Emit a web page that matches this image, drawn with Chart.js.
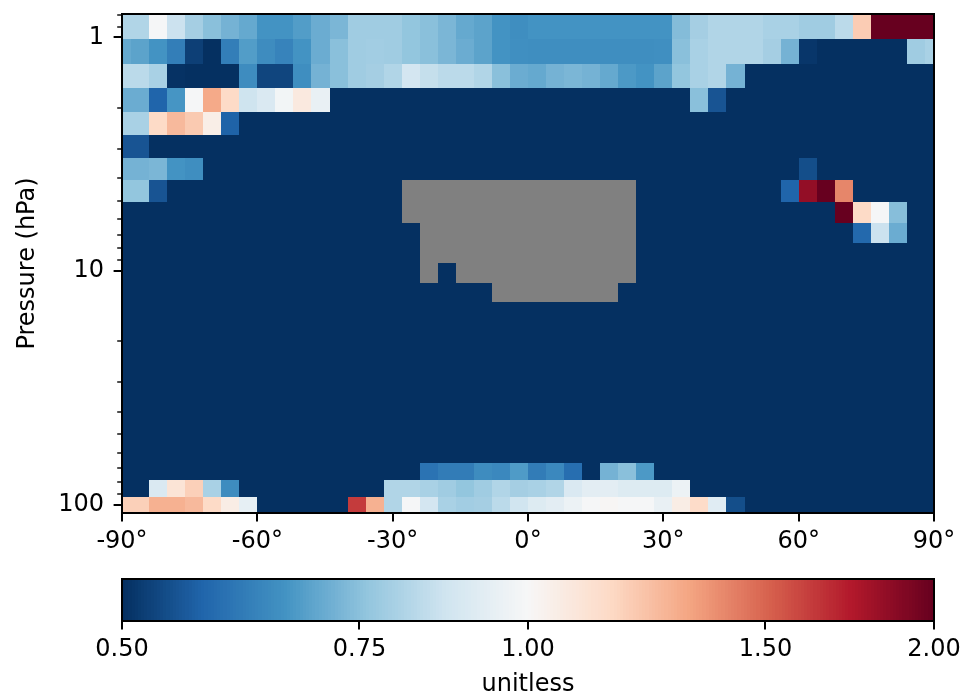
<!DOCTYPE html>
<html>
<head>
<meta charset="utf-8">
<script src="https://cdn.jsdelivr.net/npm/chart.js@4.4.1/dist/chart.umd.min.js"></script>
<style>
  html, body { margin: 0; padding: 0; background: #fff; }
  #wrap { position: relative; width: 960px; height: 700px; }
  canvas { position: absolute; left: 0; }
</style>
</head>
<body>
<div id="wrap">
  <canvas id="main" width="960" height="560" style="top:0"></canvas>
  <canvas id="cbar" width="960" height="140" style="top:560px"></canvas>
</div>
<script>
// grid box edges (4 deg lat bands, half-width polar boxes)
const latEdges = [-90, -88, -84, -80, -76, -72, -68, -64, -60, -56, -52, -48, -44, -40, -36, -32,
  -28, -24, -20, -16, -12, -8, -4, 0, 4, 8, 12, 16, 20, 24, 28, 32, 36, 40, 44, 48, 52, 56, 60,
  64, 68, 72, 76, 80, 84, 88, 90];
// pressure level edges, hPa (top to bottom)
const pressureEdges = [0.7951, 1.0194, 1.3005, 1.6508, 2.0850, 2.6202, 3.2764, 4.0766, 5.0468,
  6.2168, 7.6198, 9.2929, 11.2769, 13.6434, 16.4571, 19.7916, 23.7304, 28.3678, 33.8100,
  40.1754, 47.6439, 56.3879, 66.6034, 78.5123, 92.3657, 108.663];

const latTicks = [-90, -60, -30, 0, 30, 60, 90];
const pressureMajor = [1, 10, 100];
const pressureMinor = [0.8, 0.9, 2, 3, 4, 5, 6, 7, 8, 9, 20, 30, 40, 50, 60, 70, 80, 90];
const cbarMin = 0.5, cbarMax = 2.0;
const cbarTicks = [0.5, 0.75, 1.0, 1.5, 2.0];

const NA = null; // missing data, drawn grey

// ratio per level, 46 lat boxes each (cols -90 .. 90)
const lev01 = [0.81,0.81,0.99,0.86,0.79,0.75,0.72,0.70,0.66,0.66, 0.68,0.71,0.73,0.78,0.78,0.78,0.76,0.75,0.73,0.70,
  0.69,0.66,0.65,0.66,0.66,0.66,0.66,0.66,0.66,0.66, 0.66,0.74,0.79,0.81,0.81,0.81,0.80,0.80,0.78,0.78, 0.83,1.19,2.30,2.30,2.30,2.30];
const lev02 = [0.70,0.69,0.66,0.62,0.52,0.45,0.62,0.68,0.645,0.63, 0.66,0.71,0.75,0.78,0.785,0.78,0.76,0.75,0.73,0.71,
  0.69,0.66,0.655,0.65,0.65,0.65,0.65,0.65,0.65,0.65, 0.655,0.75,0.80,0.81,0.81,0.81,0.79,0.72,0.51,0.45, 0.45,0.45,0.45,0.45,0.78,0.80];
const lev03 = [0.83,0.83,0.80,0.505,0.45,0.45,0.45,0.645,0.53,0.53, 0.65,0.72,0.75,0.78,0.79,0.81,0.88,0.85,0.83,0.83,
  0.81,0.75,0.71,0.70,0.72,0.73,0.72,0.70,0.67,0.66, 0.69,0.76,0.80,0.81,0.72,0.45,0.45,0.45,0.45,0.45, 0.45,0.45,0.45,0.45,0.45,0.45];
const lev04 = [0.71,0.71,0.575,0.665,0.99,1.30,1.15,0.865,0.90,0.98, 1.07,0.95,0.45,0.45,0.45,0.45,0.45,0.45,0.45,0.45,
  0.45,0.45,0.45,0.45,0.45,0.45,0.45,0.45,0.45,0.45, 0.45,0.45,0.75,0.55,0.45,0.45,0.45,0.45,0.45,0.45, 0.45,0.45,0.45,0.45,0.45,0.45];
const lev05 = [0.80,0.80,1.15,1.25,1.20,1.045,0.57,0.45,0.45,0.45, 0.45,0.45,0.45,0.45,0.45,0.45,0.45,0.45,0.45,0.45,
  0.45,0.45,0.45,0.45,0.45,0.45,0.45,0.45,0.45,0.45, 0.45,0.45,0.45,0.45,0.45,0.45,0.45,0.45,0.45,0.45, 0.45,0.45,0.45,0.45,0.45,0.45];
const lev06 = [0.55,0.55,0.45,0.45,0.45,0.45,0.45,0.45,0.45,0.45, 0.45,0.45,0.45,0.45,0.45,0.45,0.45,0.45,0.45,0.45,
  0.45,0.45,0.45,0.45,0.45,0.45,0.45,0.45,0.45,0.45, 0.45,0.45,0.45,0.45,0.45,0.45,0.45,0.45,0.45,0.45, 0.45,0.45,0.45,0.45,0.45,0.45];
const lev07 = [0.72,0.72,0.73,0.66,0.65,0.45,0.45,0.45,0.45,0.45, 0.45,0.45,0.45,0.45,0.45,0.45,0.45,0.45,0.45,0.45,
  0.45,0.45,0.45,0.45,0.45,0.45,0.45,0.45,0.45,0.45, 0.45,0.45,0.45,0.45,0.45,0.45,0.45,0.45,0.54,0.45, 0.45,0.45,0.45,0.45,0.45,0.45];
const lev08 = [0.76,0.76,0.55,0.45,0.45,0.45,0.45,0.45,0.45,0.45, 0.45,0.45,0.45,0.45,0.45,0.45,NA,NA,NA,NA,
  NA,NA,NA,NA,NA,NA,NA,NA,NA,0.45, 0.45,0.45,0.45,0.45,0.45,0.45,0.45,0.575,1.84,2.10, 1.40,0.45,0.45,0.45,0.45,0.45];
const lev09 = [0.45,0.45,0.45,0.45,0.45,0.45,0.45,0.45,0.45,0.45, 0.45,0.45,0.45,0.45,0.45,0.45,NA,NA,NA,NA,
  NA,NA,NA,NA,NA,NA,NA,NA,NA,0.45, 0.45,0.45,0.45,0.45,0.45,0.45,0.45,0.45,0.45,0.45, 2.10,1.15,0.99,0.745,0.49,0.45];
const lev10 = [0.45,0.45,0.45,0.45,0.45,0.45,0.45,0.45,0.45,0.45, 0.45,0.45,0.45,0.45,0.45,0.45,0.45,NA,NA,NA,
  NA,NA,NA,NA,NA,NA,NA,NA,NA,0.45, 0.45,0.45,0.45,0.45,0.45,0.45,0.45,0.45,0.45,0.45, 0.45,0.58,0.86,0.71,0.49,0.45];
const lev11 = [0.45,0.45,0.45,0.45,0.45,0.45,0.45,0.45,0.45,0.45, 0.45,0.45,0.45,0.45,0.45,0.45,0.45,NA,NA,NA,
  NA,NA,NA,NA,NA,NA,NA,NA,NA,0.45, 0.45,0.45,0.45,0.45,0.45,0.45,0.45,0.45,0.45,0.45, 0.45,0.45,0.45,0.45,0.45,0.45];
const lev12 = [0.45,0.45,0.45,0.45,0.45,0.45,0.45,0.45,0.45,0.45, 0.45,0.45,0.45,0.45,0.45,0.45,0.45,NA,0.45,NA,
  NA,NA,NA,NA,NA,NA,NA,NA,NA,0.45, 0.45,0.45,0.45,0.45,0.45,0.45,0.45,0.45,0.45,0.45, 0.45,0.45,0.45,0.45,0.45,0.45];
const lev13 = [0.45,0.45,0.45,0.45,0.45,0.45,0.45,0.45,0.45,0.45, 0.45,0.45,0.45,0.45,0.45,0.45,0.45,0.45,0.45,0.45,
  0.45,NA,NA,NA,NA,NA,NA,NA,0.45,0.45, 0.45,0.45,0.45,0.45,0.45,0.45,0.45,0.45,0.45,0.45, 0.45,0.45,0.45,0.45,0.45,0.45];
const lev14 = [0.45,0.45,0.45,0.45,0.45,0.45,0.45,0.45,0.45,0.45, 0.45,0.45,0.45,0.45,0.45,0.45,0.45,0.45,0.45,0.45,
  0.45,0.45,0.45,0.45,0.45,0.45,0.45,0.45,0.45,0.45, 0.45,0.45,0.45,0.45,0.45,0.45,0.45,0.45,0.45,0.45, 0.45,0.45,0.45,0.45,0.45,0.45];
const lev15 = lev14.slice();
const lev16 = lev14.slice();
const lev17 = lev14.slice();
const lev18 = lev14.slice();
const lev19 = lev14.slice();
const lev20 = lev14.slice();
const lev21 = lev14.slice();
const lev22 = lev14.slice();
const lev23 = [0.45,0.45,0.45,0.45,0.45,0.45,0.45,0.45,0.45,0.45, 0.45,0.45,0.45,0.45,0.45,0.45,0.45,0.60,0.615,0.615,
  0.645,0.64,0.675,0.615,0.64,0.59,0.45,0.72,0.75,0.67, 0.45,0.45,0.45,0.45,0.45,0.45,0.45,0.45,0.45,0.45, 0.45,0.45,0.45,0.45,0.45,0.45];
const lev24 = [0.45,0.45,0.90,1.10,1.18,0.80,0.645,0.45,0.45,0.45, 0.45,0.45,0.45,0.45,0.45,0.81,0.81,0.80,0.78,0.76,
  0.78,0.81,0.79,0.80,0.81,0.90,0.93,0.93,0.91,0.91, 0.91,0.96,0.45,0.45,0.45,0.45,0.45,0.45,0.45,0.45, 0.45,0.45,0.45,0.45,0.45,0.45];
const lev25 = [1.18,1.18,1.28,1.28,1.25,1.15,1.05,0.94,0.45,0.45, 0.45,0.45,0.45,1.62,1.28,0.81,0.99,0.88,0.80,0.785,
  0.79,0.83,0.87,0.91,0.93,0.96,0.99,1.01,0.99,0.99, 0.95,1.05,1.14,0.92,0.54,0.45,0.45,0.45,0.45,0.45, 0.45,0.45,0.45,0.45,0.45,0.45];

const levels = [lev01, lev02, lev03, lev04, lev05, lev06, lev07, lev08, lev09, lev10, lev11, lev12, lev13,
  lev14, lev15, lev16, lev17, lev18, lev19, lev20, lev21, lev22, lev23, lev24, lev25];

// RdBu_r, log norm 0.5 .. 2
const rdbu = ['#053061','#2166ac','#4393c3','#92c5de','#d1e5f0','#f7f7f7','#fddbc7','#f4a582','#d6604d','#b2182b','#67001f'];
const rgb = rdbu.map(h => [1, 3, 5].map(i => parseInt(h.substr(i, 2), 16)));

function cmap(t) {
  const idx = Math.min(255, Math.max(0, Math.floor(t * 256)));
  const s = idx / 255 * 10;
  const k = Math.min(9, Math.floor(s));
  const f = s - k;
  const c = rgb[k].map((a, i) => Math.round(a + (rgb[k + 1][i] - a) * f));
  return 'rgb(' + c.join(',') + ')';
}
function colorFor(v) {
  if (v === null) return '#808080';
  const t = Math.log(v / cbarMin) / Math.log(cbarMax / cbarMin);
  return cmap(Math.max(0, Math.min(1, t)));
}

const FONT = { family: 'DejaVu Sans', size: 24 };
Chart.defaults.font.family = 'DejaVu Sans';
Chart.defaults.color = '#000';

const cellPlugin = {
  id: 'cells',
  beforeDatasetsDraw(chart) {
    const { ctx, chartArea: a, scales: { x, y } } = chart;
    ctx.save();
    ctx.beginPath();
    ctx.rect(a.left, a.top, a.width, a.height);
    ctx.clip();
    levels.forEach((row, j) => {
      const y0 = Math.round(y.getPixelForValue(pressureEdges[j]));
      const y1 = Math.round(y.getPixelForValue(pressureEdges[j + 1]));
      row.forEach((v, i) => {
        const x0 = Math.round(x.getPixelForValue(latEdges[i]));
        const x1 = Math.round(x.getPixelForValue(latEdges[i + 1]));
        ctx.fillStyle = colorFor(v);
        ctx.fillRect(x0, Math.min(y0, y1), x1 - x0, Math.abs(y1 - y0));
      });
    });
    ctx.restore();
  },
  afterDraw(chart) {
    const { ctx, chartArea: a, scales: { x, y } } = chart;
    ctx.save();
    ctx.strokeStyle = '#000';
    ctx.lineWidth = 2;
    x.ticks.forEach(t => {
      const px = Math.round(x.getPixelForValue(t.value));
      ctx.beginPath(); ctx.moveTo(px, a.bottom); ctx.lineTo(px, a.bottom + 8.4); ctx.stroke();
    });
    y.ticks.forEach(t => {
      const major = pressureMajor.includes(t.value);
      const py = Math.round(y.getPixelForValue(t.value));
      ctx.lineWidth = major ? 2 : 1.4;
      ctx.beginPath(); ctx.moveTo(a.left, py); ctx.lineTo(a.left - (major ? 8.4 : 4.8), py); ctx.stroke();
    });
    ctx.lineWidth = 2;
    ctx.strokeRect(a.left, a.top, a.right - a.left, a.bottom - a.top);
    ctx.restore();
  }
};

new Chart(document.getElementById('main'), {
  type: 'scatter',
  data: { datasets: [{ data: [] }] },
  options: {
    responsive: false,
    animation: false,
    layout: { padding: { top: 14, right: 26, bottom: 0, left: 0 } },
    plugins: { legend: { display: false }, tooltip: { enabled: false } },
    scales: {
      x: {
        type: 'linear', min: -90, max: 90,
        grid: { display: false, drawTicks: false },
        border: { display: false },
        afterBuildTicks: s => { s.ticks = latTicks.map(v => ({ value: v })); },
        ticks: { autoSkip: false, maxRotation: 0, padding: 14, font: FONT, color: '#000',
          callback: v => v + '°' },
        afterFit: s => { s.height = 47; s.paddingLeft = 0; s.paddingRight = 0; }
      },
      y: {
        type: 'logarithmic', reverse: true,
        min: pressureEdges[0], max: pressureEdges[pressureEdges.length - 1],
        grid: { display: false, drawTicks: false },
        border: { display: false },
        afterBuildTicks: s => {
          s.ticks = pressureMinor.concat(pressureMajor).sort((a, b) => a - b).map(v => ({ value: v }));
        },
        ticks: { autoSkip: false, padding: 18, font: FONT, color: '#000',
          callback: v => pressureMajor.includes(v) ? String(v) : '' },
        title: { display: true, text: 'Pressure (hPa)', font: FONT, color: '#000', padding: { top: 13, bottom: 0 } },
        afterFit: s => { s.width = 122; s.paddingTop = 0; s.paddingBottom = 0; }
      }
    }
  },
  plugins: [cellPlugin]
});

const cbarPlugin = {
  id: 'cbar',
  beforeDatasetsDraw(chart) {
    const { ctx, chartArea: a, scales: { x } } = chart;
    const ratio = cbarMax / cbarMin;
    for (let i = 0; i < 256; i++) {
      const x0 = Math.round(x.getPixelForValue(cbarMin * Math.pow(ratio, i / 256)));
      const x1 = Math.round(x.getPixelForValue(cbarMin * Math.pow(ratio, (i + 1) / 256)));
      if (x1 <= x0) continue;
      ctx.fillStyle = cmap((i + 0.5) / 256);
      ctx.fillRect(x0, a.top, x1 - x0, a.bottom - a.top);
    }
  },
  afterDraw(chart) {
    const { ctx, chartArea: a, scales: { x } } = chart;
    ctx.save();
    ctx.strokeStyle = '#000';
    ctx.lineWidth = 2;
    x.ticks.forEach(t => {
      const px = Math.round(x.getPixelForValue(t.value));
      ctx.beginPath(); ctx.moveTo(px, a.bottom); ctx.lineTo(px, a.bottom + 8.4); ctx.stroke();
    });
    ctx.strokeRect(a.left, a.top, a.right - a.left, a.bottom - a.top);
    ctx.restore();
  }
};

new Chart(document.getElementById('cbar'), {
  type: 'scatter',
  data: { datasets: [{ data: [] }] },
  options: {
    responsive: false,
    animation: false,
    layout: { padding: { top: 19, right: 26, bottom: 0, left: 122 } },
    plugins: { legend: { display: false }, tooltip: { enabled: false } },
    scales: {
      x: {
        type: 'logarithmic', min: cbarMin, max: cbarMax,
        grid: { display: false, drawTicks: false },
        border: { display: false },
        afterBuildTicks: s => { s.ticks = cbarTicks.map(v => ({ value: v })); },
        ticks: { autoSkip: false, maxRotation: 0, padding: 14, font: FONT, color: '#000',
          callback: v => Number(v).toFixed(2) },
        title: { display: true, text: 'unitless', font: FONT, color: '#000', padding: { top: 0, bottom: 1 } },
        afterFit: s => { s.height = 79; s.paddingLeft = 0; s.paddingRight = 0; }
      },
      y: { display: false, min: 0, max: 1 }
    }
  },
  plugins: [cbarPlugin]
});
</script>
</body>
</html>
